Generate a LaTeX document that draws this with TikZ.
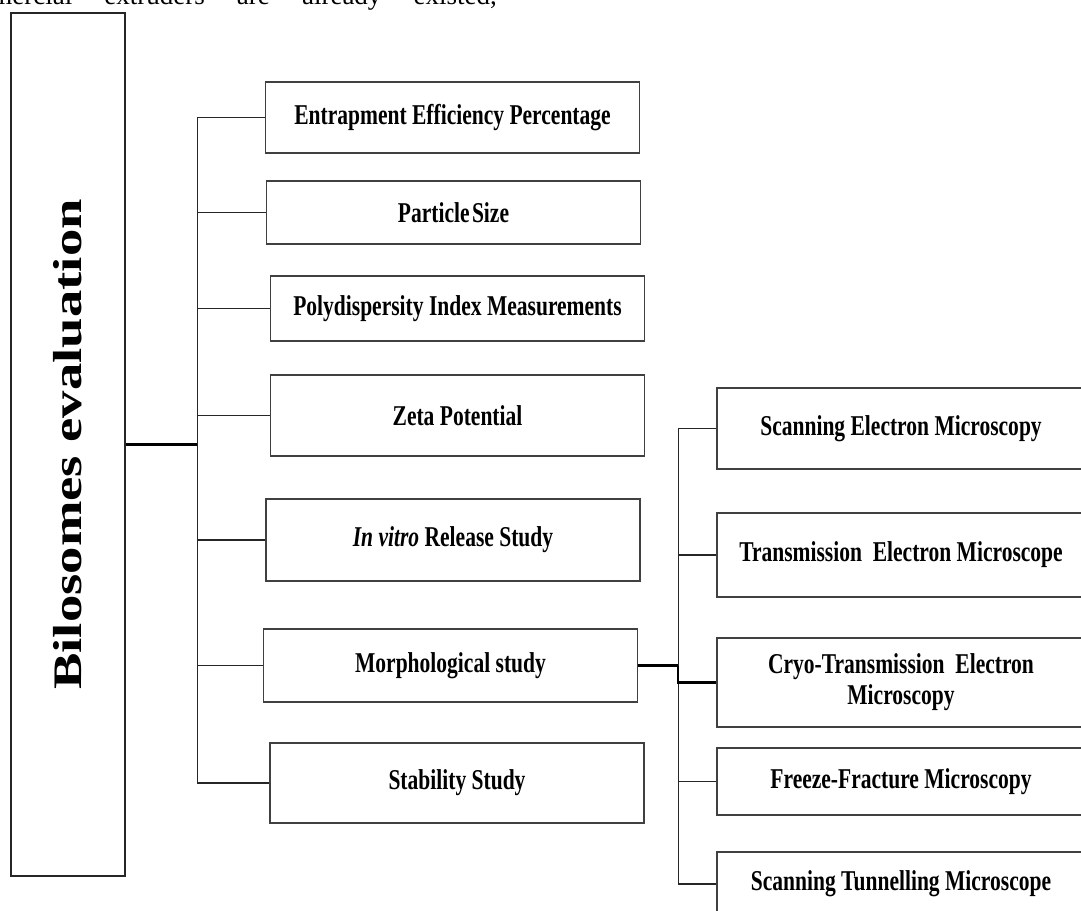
\documentclass[tikz,border=0pt]{standalone}
\usepackage{fontspec}
\setmainfont{Liberation Serif}
\newfontfamily\narrowserif[FakeStretch=0.75]{Liberation Serif}
\newfontfamily\wideserif[FakeStretch=1.35]{Liberation Serif}
\usepackage{tikz}

\begin{document}
\begin{tikzpicture}[x=1pt, y=-1pt,
  item/.style={rectangle, draw=black!75, line width=1.4pt, fill=white,
               minimum width=374pt, inner sep=0pt, align=center,
               font=\narrowserif\bfseries\fontsize{28.7}{31}\selectfont},
  link/.style={black!85, line width=1.4pt},
  trunk/.style={black, line width=2.4pt},
]
  \useasboundingbox (0,0) rectangle (1081,910);
  \clip (0,0) rectangle (1081,910);

  % Line of body text cut off at the top
  \node[anchor=base east, inner sep=0pt, font=\fontsize{27}{27}\selectfont] (bodyline) at (497,5)
    {\hbox to 552pt{commercial\hfill extruders\hfill are\hfill already\hfill existed,}};

  % Main box
  \node[draw=black!85, line width=1.4pt, minimum width=114pt, minimum height=863pt,
        inner sep=0pt, font=\wideserif\bfseries\fontsize{40.5}{40.5}\selectfont] (main) at (68,444.5)
    {\rotatebox{90}{Bilosomes evaluation}};

  % Evaluation parameters
  \node[item, minimum height=71pt] (eep) at (452.5,117.5) {Entrapment Efficiency Percentage};
  \node[item, minimum height=63pt] (ps) at (453.5,212.5) {Particle\hspace{-3pt} Size};
  \node[item, minimum height=65pt] (pdi) at (457.5,308.5) {Polydispersity Index Measurements};
  \node[item, minimum height=81pt] (zp) at (457.5,415.5) {Zeta Potential};
  \node[item, minimum height=82pt] (ivr) at (453,540) {\textit{In vitro} Release Study};
  \node[item, minimum height=73pt] (morph) at (450.5,665.5) {Morphological study};
  \node[item, minimum height=80pt] (stab) at (457,783) {Stability Study};

  % Microscopy techniques
  \node[item, minimum width=368pt, minimum height=81pt] (sem) at (901,428.5) {Scanning Electron Microscopy};
  \node[item, minimum width=368pt, minimum height=84pt] (tem) at (901,555) {Transmission\ \ Electron Microscope};
  \node[item, minimum width=368pt, minimum height=89pt] (cryo) at (901,682.5) {Cryo-Transmission\ \ Electron\\Microscopy};
  \node[item, minimum width=368pt, minimum height=67pt] (ffm) at (901,781.5) {Freeze-Fracture Microscopy};
  \node[item, minimum width=368pt, minimum height=64pt] (stm) at (901,884) {Scanning Tunnelling Microscope};

  % Connectors
  \draw[trunk] (main.east) -- ++(72,0) coordinate (hub);
  \foreach \n in {eep,ps,pdi,zp,ivr,morph,stab}
    \draw[link] (hub) |- (\n.west);

  \draw[trunk] (morph.east) -- ++(40,0) coordinate (mhub);
  \foreach \n in {sem,tem,ffm,stm}
    \draw[link] (mhub) |- (\n.west);
  \draw[trunk] (mhub) |- (cryo.west);
\end{tikzpicture}
\end{document}
